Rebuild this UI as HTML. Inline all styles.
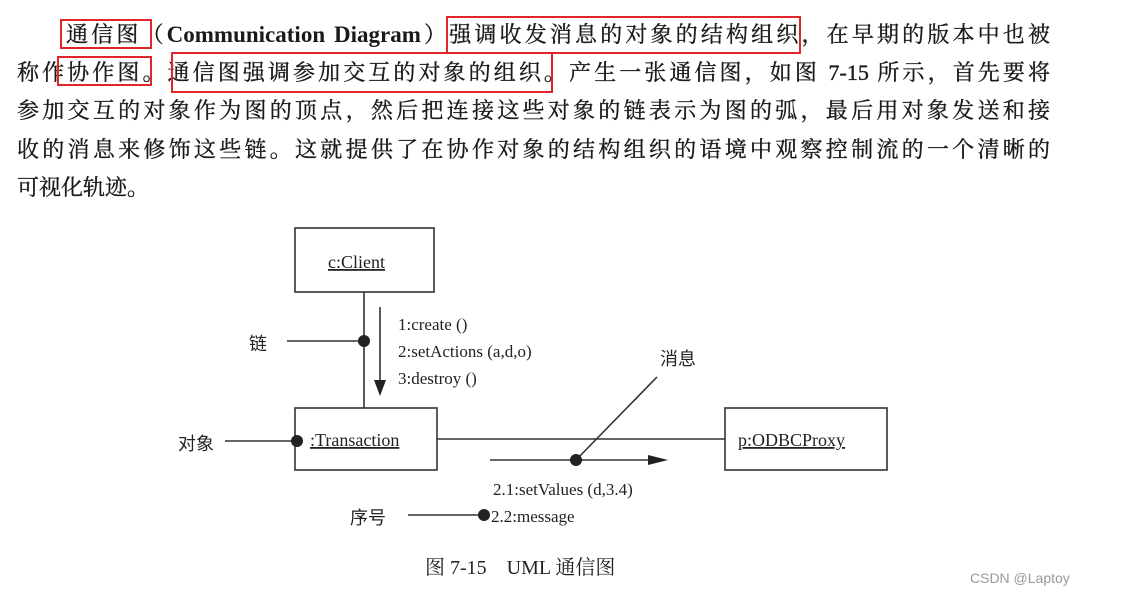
<!DOCTYPE html>
<html><head><meta charset="utf-8"><style>
body{margin:0;width:1127px;height:612px;background:#fff;position:relative;overflow:hidden;font-family:"Liberation Serif","Noto Serif CJK SC",serif;color:#1a1a1a}
.l{position:absolute;font-size:22px;line-height:30px;height:30px;text-align:justify;text-align-last:justify;white-space:nowrap;-webkit-text-stroke:0.35px #1a1a1a}
.r{position:absolute;border:2px solid #e0262a;box-sizing:border-box}
.b{font-weight:bold;font-size:23px;-webkit-text-stroke:0}
</style></head><body>
<div class="l" style="left:66px;top:20px;width:984px">通信图（<span class="b">Communication Diagram</span>）强调收发消息的对象的结构组织，在早期的版本中也被</div>
<div class="l" style="left:17px;top:58px;width:1033px">称作协作图。通信图强调参加交互的对象的组织。产生一张通信图，如图 7-15 所示，首先要将</div>
<div class="l" style="left:17px;top:96px;width:1033px">参加交互的对象作为图的顶点，然后把连接这些对象的链表示为图的弧，最后用对象发送和接</div>
<div class="l" style="left:17px;top:135px;width:1033px">收的消息来修饰这些链。这就提供了在协作对象的结构组织的语境中观察控制流的一个清晰的</div>
<div class="l" style="left:17px;top:173px;text-align:left;text-align-last:left">可视化轨迹。</div>
<div class="r" style="left:60px;top:19px;width:92px;height:30px"></div>
<div class="r" style="left:446px;top:16px;width:355px;height:38px"></div>
<div class="r" style="left:57px;top:56px;width:95px;height:30px"></div>
<div class="r" style="left:171px;top:52px;width:382px;height:41px"></div>
<svg width="1127" height="612" style="position:absolute;left:0;top:0" font-family="Liberation Serif, Noto Serif CJK SC, serif" fill="#222">
<g stroke="#333" stroke-width="1.6" fill="none">
<rect x="295" y="228" width="139" height="64"/>
<rect x="295" y="408" width="142" height="62"/>
<rect x="725" y="408" width="162" height="62"/>
<line x1="364" y1="292" x2="364" y2="408"/>
<line x1="437" y1="439" x2="725" y2="439"/>
<line x1="287" y1="341" x2="364" y2="341"/>
<line x1="225" y1="441" x2="297" y2="441"/>
<line x1="408" y1="515" x2="484" y2="515"/>
<line x1="380" y1="307" x2="380" y2="382"/>
<line x1="490" y1="460" x2="650" y2="460"/>
<line x1="576" y1="460" x2="657" y2="377"/>
</g>
<polygon points="374,380 386,380 380,396" fill="#222"/>
<polygon points="648,455 668,460 648,465" fill="#222"/>
<circle cx="364" cy="341" r="6"/><circle cx="297" cy="441" r="6"/><circle cx="576" cy="460" r="6"/><circle cx="484" cy="515" r="6"/>
<g font-size="18" text-decoration="underline">
<text x="328" y="268">c:Client </text>
<text x="310" y="446">:Transaction </text>
<text x="738" y="446">p:ODBCProxy </text>
</g>
<g font-size="17">
<text x="398" y="330">1:create ()</text>
<text x="398" y="357">2:setActions (a,d,o)</text>
<text x="398" y="384">3:destroy ()</text>
<text x="493" y="495">2.1:setValues (d,3.4)</text>
<text x="491" y="522">2.2:message</text>
</g>
<g font-size="18" font-family="Liberation Sans, Noto Sans CJK SC, sans-serif">
<text x="249" y="350">链</text>
<text x="178" y="450">对象</text>
<text x="660" y="365">消息</text>
<text x="350" y="524">序号</text>
</g>
<text x="425" y="574" font-size="20">图 7-15　UML 通信图</text>
<text x="970" y="583" font-size="14" fill="#999" font-family="Liberation Sans, sans-serif">CSDN @Laptoy</text>
</svg>
</body></html>
